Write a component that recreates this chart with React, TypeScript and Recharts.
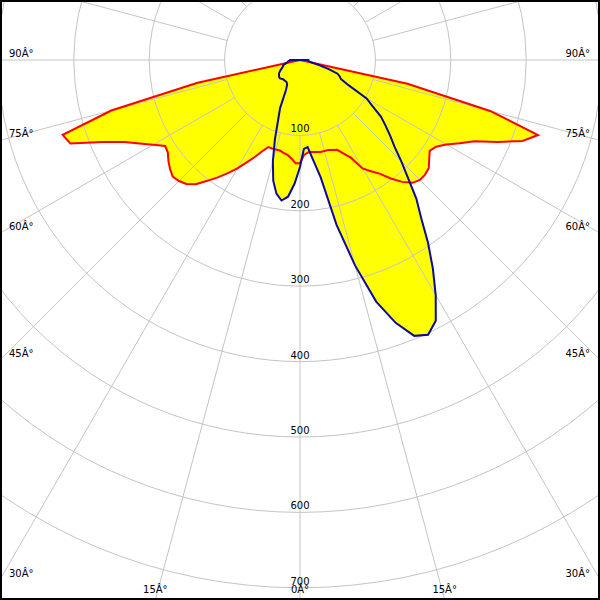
import { PolarAngleAxis, PolarGrid, PolarRadiusAxis, Radar, RadarChart } from 'recharts';

// gamma angles (0 = straight down, negative = left half)
const ANGLES = [
  -90, -87.5, -85, -82.5, -80, -77.5, -75, -72.5, -70, -67.5, -65, -62.5, -60, -57.5, -55, -52.5, -50, -47.5, -45,
  -42.5, -40, -37.5, -35, -32.5, -30, -27.5, -25, -22.5, -20, -17.5, -15, -12.5, -10, -7.5, -5, -2.5, 0, 2.5, 5, 7.5,
  10, 12.5, 15, 17.5, 20, 22.5, 25, 27.5, 30, 32.5, 35, 37.5, 40, 42.5, 45, 47.5, 50, 52.5, 55, 57.5, 60, 62.5, 65,
  67.5, 70, 72.5, 75, 77.5, 80, 82.5, 85, 87.5, 90,
];

// C0-C180 plane (red)
const RED_VALUES = [
  0, 0, 0, 0, 0, 139, 259, 330, 324, 284, 257, 240, 225, 212, 214, 220, 225, 229, 227,
  223, 215, 202, 190, 178, 166, 153, 142, 131, 123, 123, 123, 123, 125, 127, 131, 137, 137, 126, 123, 123,
  124, 125, 125, 125, 127, 129, 137, 146, 166, 175, 184, 198, 211, 221, 225, 225, 223, 216, 210, 214, 224, 239, 255,
  284, 314, 331, 261, 146, 0, 0, 0, 0, 0,
];

// C90-C270 plane (blue)
const BLUE_VALUES = [
  13, 13, 15, 16, 17, 19, 21, 23, 24, 25, 27, 29, 31, 33, 34, 35, 36, 36, 35,
  34, 34, 34, 34, 34, 35, 37, 44, 69, 85, 111, 139, 164, 180, 188, 182, 164, 142, 118, 116, 134,
  158, 224, 282, 336, 371, 396, 402, 390, 360, 328, 296, 264, 240, 212, 190, 170, 156, 143, 131, 114, 102, 73, 60,
  57, 53, 40, 27, 17, 13, 12, 11, 11, 11,
];

const RADIUS_TICKS = [100, 200, 300, 400, 500, 600, 700];
const SPOKE_TICKS = [
  -180, -165, -150, -135, -120, -105, -90, -75, -60, -45, -30, -15, 0, 15, 30, 45, 60, 75, 90, 105, 120, 135, 150, 165,
];

const SIZE = 600;
const CX = 300;
const CY = 60;
const PX = 0.754; // pixels per cd
const FONT = 'DejaVu Sans, sans-serif';
const FONT_SIZE = 10;

const rows = ANGLES.map((angle, i) => ({ angle, red: RED_VALUES[i], blue: BLUE_VALUES[i] }));

const chartBase = {
  width: SIZE,
  height: SIZE,
  cx: CX,
  cy: CY,
  startAngle: -270,
  endAngle: 90,
  margin: { top: 0, right: 0, bottom: 0, left: 0 },
};

function AngleTick(props: any) {
  const { x, y, payload } = props;
  const deg = payload?.value;
  if (deg == null || Math.abs(deg) > 90) return null;
  const dx = x - CX;
  const dy = y - CY;
  const label = `${Math.abs(deg)}Â°`;
  if (Math.abs(dx) > 0.001) {
    const edgeX = dx < 0 ? 0 : SIZE;
    const yAtEdge = CY + (dy * (edgeX - CX)) / dx;
    if (yAtEdge <= SIZE) {
      return (
        <text x={dx < 0 ? 9 : 590} y={yAtEdge - 3} textAnchor={dx < 0 ? 'start' : 'end'} fontSize={FONT_SIZE} fontFamily={FONT} fill="#000">
          {label}
        </text>
      );
    }
  }
  const xAtBottom = CX + (dx * (SIZE - CY)) / dy;
  return (
    <text x={xAtBottom} y={593} textAnchor="middle" fontSize={FONT_SIZE} fontFamily={FONT} fill="#000">
      {label}
    </text>
  );
}

function RadiusTick(props: any) {
  const { x, y, payload } = props;
  if (payload?.value > 700) return null;
  return (
    <text x={x} y={y - 3} textAnchor="middle" fontSize={FONT_SIZE} fontFamily={FONT} fill="#000">
      {payload?.value}
    </text>
  );
}

function CurveLayer({ fill }: { fill: boolean }) {
  return (
    <RadarChart {...chartBase} data={rows} innerRadius={0} outerRadius={700 * PX}>
      <PolarAngleAxis type="number" dataKey="angle" domain={[-180, 180]} tick={false} axisLine={false} tickLine={false} />
      <PolarRadiusAxis type="number" domain={[0, 700]} tick={false} axisLine={false} tickLine={false} />
      <Radar
        dataKey="red"
        fill={fill ? '#ffff00' : 'none'}
        fillOpacity={1}
        stroke={fill ? 'none' : '#ff0000'}
        strokeWidth={2}
        dot={false}
        isAnimationActive={false}
      />
      <Radar
        dataKey="blue"
        fill={fill ? '#ffff00' : 'none'}
        fillOpacity={1}
        stroke={fill ? 'none' : '#0a0a9c'}
        strokeWidth={2}
        dot={false}
        isAnimationActive={false}
      />
    </RadarChart>
  );
}

export default function App() {
  const layer = { position: 'absolute' as const, left: 0, top: 0 };
  return (
    <div style={{ position: 'absolute', left: 0, top: 0, width: SIZE, height: SIZE, background: '#fff', overflow: 'hidden' }}>
      <div style={layer}>
        <CurveLayer fill />
      </div>
      <div style={layer}>
        <RadarChart {...chartBase} data={rows} innerRadius={100 * PX} outerRadius={850 * PX}>
          <PolarGrid gridType="circle" stroke="#c4c4c4" strokeWidth={1} />
          <PolarAngleAxis
            type="number"
            dataKey="angle"
            domain={[-180, 180]}
            ticks={SPOKE_TICKS}
            tickCount={25}
            axisLine={false}
            tickLine={false}
            tick={AngleTick}
          />
          <PolarRadiusAxis
            type="number"
            angle={-90}
            dataKey="red"
            domain={[100, 850]}
            allowDataOverflow
            ticks={RADIUS_TICKS}
            axisLine={false}
            tickLine={false}
            tick={RadiusTick}
          />
          <Radar dataKey="red" fill="none" stroke="none" dot={false} isAnimationActive={false} />
        </RadarChart>
      </div>
      <div style={layer}>
        <CurveLayer fill={false} />
      </div>
      <div style={{ ...layer, width: SIZE, height: SIZE, border: '2px solid #000', boxSizing: 'border-box' }} />
    </div>
  );
}
